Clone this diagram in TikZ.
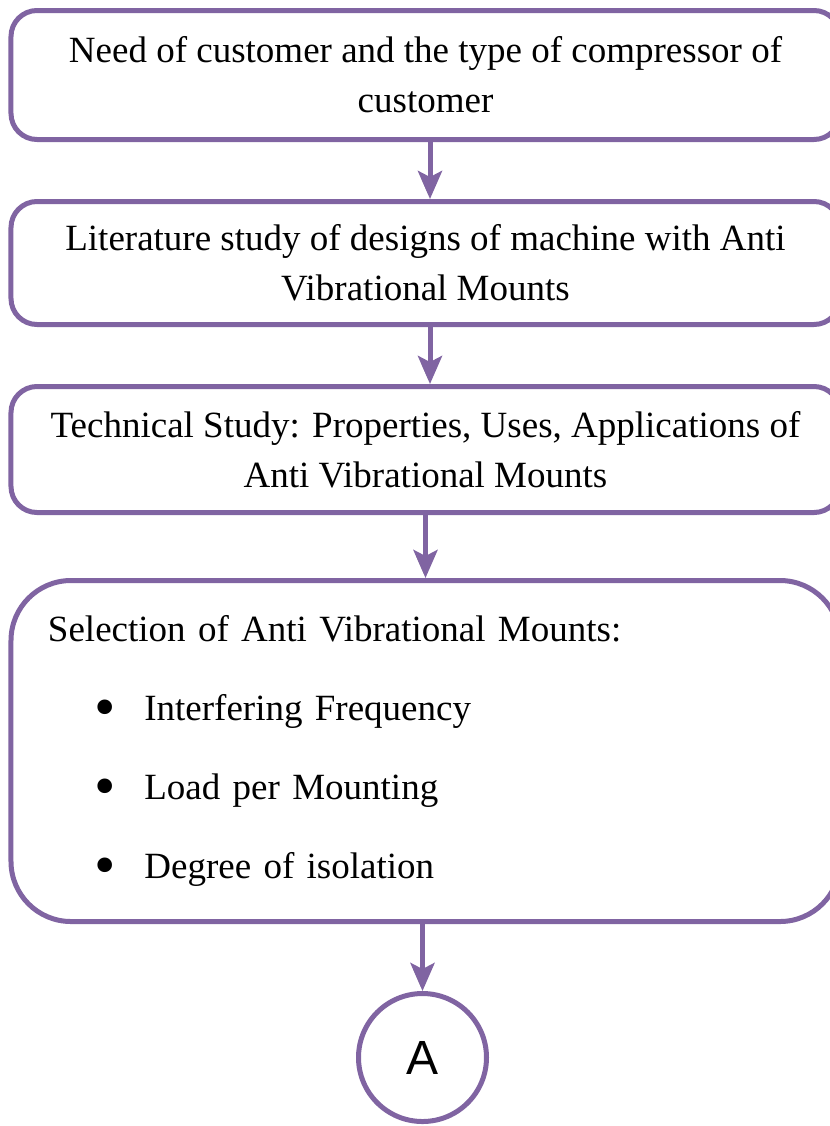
\documentclass[tikz,border=0pt]{standalone}
\usepackage{fontspec}
\setmainfont{Liberation Serif}
\newfontfamily\labelfont{Liberation Sans}
\usetikzlibrary{arrows.meta,positioning}
\definecolor{boxpurple}{HTML}{8064A2}
\newcommand{\bulletline}[1]{\hspace*{47bp}\raisebox{-6.5bp}{\scalebox{1.65}{\textbullet}}\hspace*{28bp}#1}

\begin{document}
\begin{tikzpicture}[x=1bp,y=1bp,node distance=57bp,
  flow box/.style={draw=boxpurple,line width=5bp,fill=white,rounded corners=26bp,
    minimum width=829bp,align=center,font=\fontsize{37bp}{50bp}\selectfont},
  list box/.style={flow box,rounded corners=60bp,align=left,text width=755bp,
    inner xsep=37bp,font=\fontsize{37bp}{79bp}\selectfont},
  end node/.style={circle,draw=boxpurple,line width=5bp,minimum size=128bp,
    font=\labelfont\fontsize{48bp}{48bp}\selectfont},
  flow arrow/.style={-{Stealth[length=28bp,width=24bp,inset=6bp]},
    draw=boxpurple,line width=5bp,
    preaction={draw=gray!60,transform canvas={xshift=-1.5bp,yshift=-2bp}}}]

  \useasboundingbox (0,0) rectangle (830,-1126);

  \node[flow box,minimum height=129bp] (need) at (425.5,-75)
    {Need of customer and the type of compressor of\\customer};
  \node[flow box,minimum height=123bp] (lit) [below=of need]
    {Literature study of designs of machine with Anti\\Vibrational Mounts};
  \node[flow box,minimum height=126bp] (tech) [below=of lit]
    {Technical Study: Properties, Uses, Applications of\\Anti Vibrational Mounts};
  \node[list box,minimum height=341bp] (sel) [below=63bp of tech]
    {Selection of Anti Vibrational Mounts:\\
     \bulletline{Interfering Frequency}\\
     \bulletline{Load per Mounting}\\
     \bulletline{Degree of isolation}};
  \node[end node] (a) [below=67bp of sel,xshift=-3bp] {A};

  \path
    ([xshift=4.5bp]need.south) edge[flow arrow] ([xshift=4.5bp]lit.north)
    ([xshift=4.5bp]lit.south) edge[flow arrow] ([xshift=4.5bp]tech.north)
    (tech.south) edge[flow arrow] (tech.south |- sel.north)
    (a.north |- sel.south) edge[flow arrow] (a.north);
\end{tikzpicture}
\end{document}
